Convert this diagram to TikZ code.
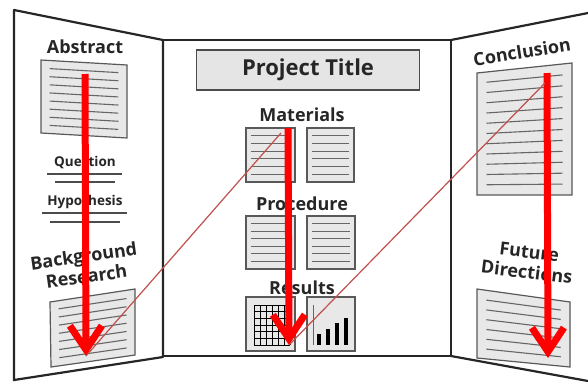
\documentclass[tikz,border=0pt]{standalone}
\usepackage{fontspec}
\setmainfont{Open Sans}
\usetikzlibrary{arrows.meta,calc}
\definecolor{linkred}{RGB}{192,80,77}
\tikzset{
  >=latex,
  panel/.style={line width=2.2pt,draw=black!85,line join=round},
  sheet/.style={draw=black!65,fill=black!9,line width=1.2pt},
  sheetline/.style={draw=black!60,line width=1.1pt},
  heading/.style={font=\fontsize{18}{20.5}\selectfont\bfseries,text=black!85,inner sep=0pt,align=center},
  subheading/.style={font=\fontsize{13.5}{15}\selectfont\bfseries,text=black!85,inner sep=0pt},
  underline/.style={draw=black!70,line width=1.1pt},
  bigarrow/.style={red,line width=7pt,-{Straight Barb[length=24pt,width=32pt]}},
  link/.style={linkred,line width=1.2pt}
}
% sheet with ruled lines: corners tl, tr, br, bl and number of lines
\newcommand{\docsheet}[5]{%
  \draw[sheet] #1 -- #2 -- #3 -- #4 -- cycle;
  \foreach \k in {1,...,#5}{
    \coordinate (sl) at ($#1!{\k/(#5+1)}!#4$);
    \coordinate (sr) at ($#2!{\k/(#5+1)}!#3$);
    \draw[sheetline] ($(sl)!0.1!(sr)$) -- ($(sr)!0.1!(sl)$);
  }}

\begin{document}
\begin{tikzpicture}[x=1pt,y=-1pt]
  \useasboundingbox (0,0) rectangle (588,381);
  % the three boards
  \draw[panel] (14,381) -- (14,10) -- (163,40) -- (163,357) -- (14,380);
  \draw[panel] (163,40) rectangle (451,356);
  \draw[panel] (451,40) -- (588,13);
  \draw[panel] (451,356) -- (588,381);

  % left board
  \node[heading] (abstract) at (85,47) {Abstract};
  \docsheet{(41,60)}{(127,65)}{(127,138)}{(41,133)}{8}
  \node[subheading] (question) at (85,163) {Question};
  \draw[underline] (47,174) -- (122,174);
  \draw[underline] (55,182) -- (115,182);
  \node[subheading] (hypothesis) at (85,202) {Hypothesis};
  \draw[underline] (42,213) -- (127,213);
  \draw[underline] (50,222) -- (120,222);
  \node[heading,rotate=8] (background) at (85,266) {Background\\Research};
  \docsheet{(50,302)}{(135,289)}{(135,355)}{(51,367)}{7}

  % middle board
  \node[draw=black!70,fill=black!10,line width=1.2pt,minimum width=223pt,minimum height=40pt,
    font=\fontsize{22}{24}\selectfont\bfseries,text=black!85] (title) at (308,70) {Project Title};
  \node[heading] (materials) at (302,115) {Materials};
  \docsheet{(246,128)}{(295,128)}{(295,182)}{(246,182)}{6}
  \docsheet{(307,128)}{(354,128)}{(354,182)}{(307,182)}{6}
  \node[heading] (procedure) at (302,204) {Procedure};
  \docsheet{(246,216)}{(295,216)}{(295,269)}{(246,269)}{6}
  \docsheet{(307,216)}{(355,216)}{(355,269)}{(307,269)}{6}
  \node[heading] (results) at (302,288) {Results};
  \draw[sheet] (246,297) rectangle (295,351);
  \foreach \i in {0,...,6}{
    \draw[line width=0.8pt] (254+\i*6,305) -- (254+\i*6,345);
    \draw[line width=0.8pt] (254,305+\i*6.67) -- (290,305+\i*6.67);
  }
  \draw[sheet] (307,297) rectangle (355,351);
  \draw[black!60,line width=0.8pt] (313,305) -- (313,345);
  \foreach \x/\y in {319/334,328/329,337/323,346/318}
    \fill[black] (\x-2.2,\y) rectangle (\x+2.2,345);

  % right board
  \node[heading,rotate=9] (conclusion) at (522,52) {Conclusion};
  \docsheet{(477,73)}{(572,63)}{(572,195)}{(477,195)}{11}
  \node[heading,rotate=-7] (future) at (528,262) {Future\\Directions};
  \docsheet{(477,289)}{(570,302)}{(570,367)}{(477,358)}{6}

  % reading order
  \coordinate (leftTop) at (85,74);
  \coordinate (leftEnd) at (86,356);
  \coordinate (midTop) at (288,128);
  \coordinate (midEnd) at (289,345);
  \coordinate (rightTop) at (547,73);
  \coordinate (rightEnd) at (548,358);
  \coordinate (midJoin) at (281,133);
  \coordinate (rightJoin) at (545,83);
  \draw[bigarrow] (leftTop) -- (leftEnd);
  \draw[bigarrow] (midTop) -- (midEnd);
  \draw[bigarrow] (rightTop) -- (rightEnd);
  \draw[link] (leftEnd) -- (midJoin);
  \draw[link] (midEnd) -- (rightJoin);
\end{tikzpicture}
\end{document}
